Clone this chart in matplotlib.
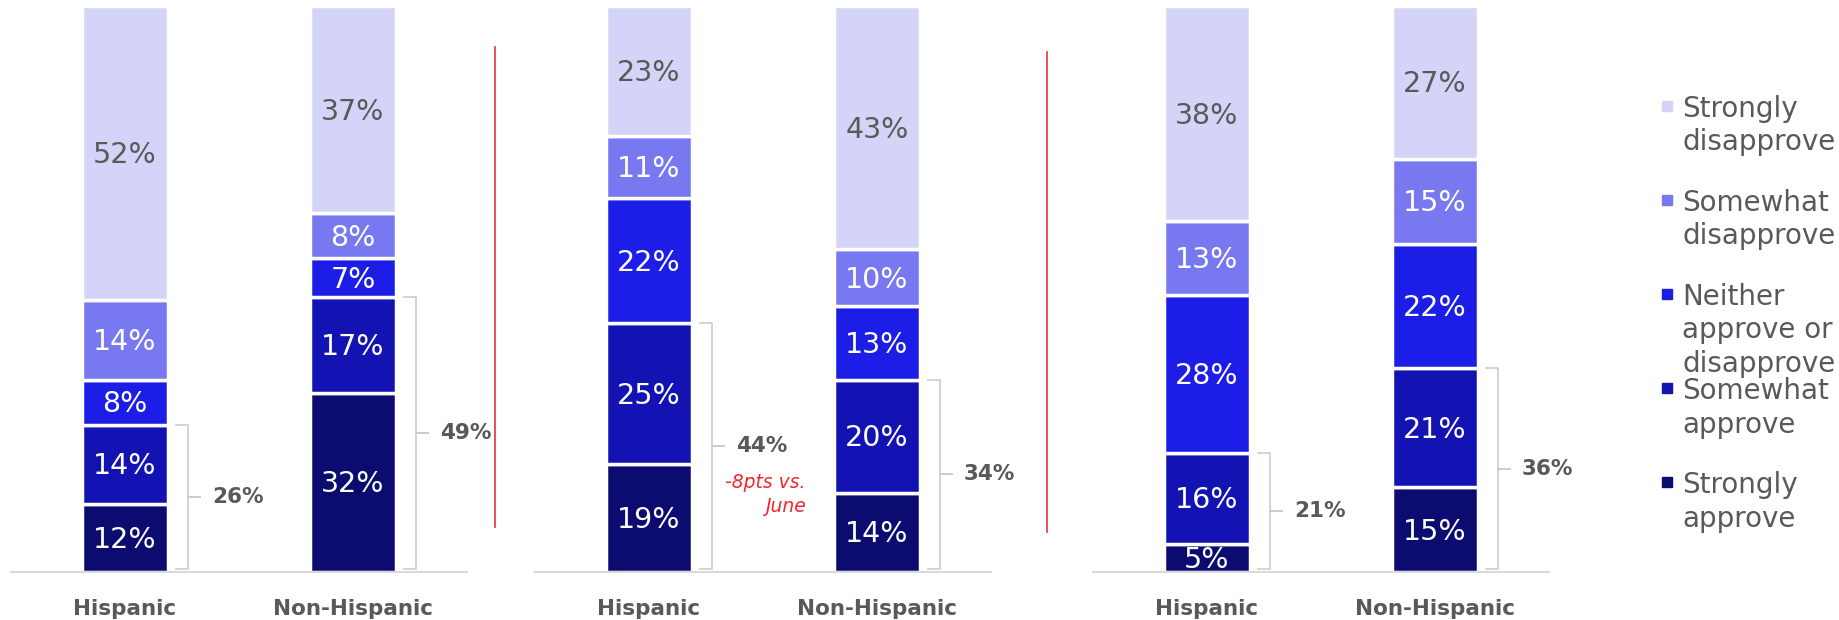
import matplotlib.pyplot as plt
import matplotlib.transforms as mtransforms
from matplotlib.patches import Rectangle
import numpy as np

# three waves, each with Hispanic / Non-Hispanic bars
categories = ["Hispanic", "Non-Hispanic"]
strongly_approve = [[12, 32], [19, 14], [5, 15]]
somewhat_approve = [[14, 17], [25, 20], [16, 21]]
neither = [[8, 7], [22, 13], [28, 22]]
somewhat_disapprove = [[14, 8], [11, 10], [13, 15]]
strongly_disapprove = [[52, 37], [23, 43], [38, 27]]
approve_totals = [[26, 49], [44, 34], [21, 36]]
change_note = "-8pts vs.\nJune"   # panel 2, Hispanic

legend_labels = ["Strongly\ndisapprove", "Somewhat\ndisapprove",
                 "Neither\napprove or\ndisapprove", "Somewhat\napprove",
                 "Strongly\napprove"]
colors = ["#0b0b70", "#1313b4", "#1d1de8", "#7878f0", "#d4d4f8"]  # bottom -> top
gray = "#595959"

W, H = 1839, 620
fig = plt.figure(figsize=(W / 100, H / 100), dpi=100)

panel_left = [11, 535, 1093]
panel_w = 456
bottom_px, top_px = 572, 6
bar_w = 0.376


def px(ax, dx=0, dy=0):
    # data coords shifted by a number of pixels
    return mtransforms.offset_copy(ax.transData, fig=fig, x=dx, y=dy, units="dots")


for p in range(3):
    ax = fig.add_axes([panel_left[p] / W, (H - bottom_px) / H,
                       panel_w / W, (bottom_px - top_px) / H])
    x = np.arange(len(categories))
    stack = np.array([strongly_approve[p], somewhat_approve[p], neither[p],
                      somewhat_disapprove[p], strongly_disapprove[p]], float)
    shares = stack / stack.sum(axis=0) * 100
    base = np.zeros(len(categories))
    for k in range(5):
        ax.bar(x, shares[k], bar_w, bottom=base, color=colors[k],
               edgecolor="white", linewidth=2.5)
        for i in range(len(categories)):
            ax.text(x[i], base[i] + shares[k][i] / 2, f"{stack[k][i]:.0f}%",
                    transform=px(ax, 0, -2),
                    ha="center", va="center", fontsize=20.5,
                    color=gray if k == 4 else "white", clip_on=True)
        base += shares[k]

    ax.set_xlim(-0.5, 1.5)
    ax.set_ylim(0, 100)
    for s in ["top", "left", "right"]:
        ax.spines[s].set_visible(False)
    ax.spines["bottom"].set_color("#d9d9d9")
    ax.spines["bottom"].set_linewidth(1.5)
    ax.set_xticks([])
    ax.set_yticks([])

    for i in range(len(categories)):
        ax.text(x[i], 0, categories[i], transform=px(ax, 0, -37),
                ha="center", va="center", fontsize=15.5, fontweight="bold",
                color=gray)

        # bracket around the approve share
        r = x[i] + bar_w / 2
        top = shares[0][i] + shares[1][i]
        bot = 0.5
        mid = (top + bot) / 2
        bx = np.array([8, 20, 20, 32, 20, 20, 8])
        by = [top, top, mid, mid, mid, bot, bot]
        pts = ax.transData.transform([(r, yy) for yy in by])
        pts[:, 0] += bx
        ax.plot(pts[:, 0], pts[:, 1], transform=None, color="#cccccc",
                lw=1.2, clip_on=False)
        ax.text(r, mid, f"{approve_totals[p][i]}%", transform=px(ax, 44, 0),
                ha="left", va="center", fontsize=15.5, fontweight="bold",
                color=gray)
        if p == 1 and i == 0:
            ax.text(r, mid, change_note, transform=px(ax, 114, -27),
                    ha="right", va="top", fontsize=13.5, style="italic",
                    color="#f0282d", linespacing=1.35)

# red separators between waves
for xp, y0, y1 in [(494.8, 47.4, 526.7), (1046.8, 52.2, 531.8)]:
    fig.add_artist(plt.Line2D([xp / W, xp / W], [(H - y1) / H, (H - y0) / H],
                              transform=fig.transFigure, color="#e8303a", lw=1.2))

# legend
legend_colors = colors[::-1]
for i, lab in enumerate(legend_labels):
    yc = 106.7 + 94.15 * i
    fig.add_artist(Rectangle((1662 / W, (H - yc - 4) / H), 10 / W, 10 / H,
                             transform=fig.transFigure, color=legend_colors[i]))
    for j, line in enumerate(lab.split("\n")):
        yl = yc + 33.5 * j
        fig.text(1682 / W, (H - yl - 10) / H, line, ha="left", va="baseline",
                 fontsize=20, color=gray)

fig.savefig("out.png", dpi=100)
